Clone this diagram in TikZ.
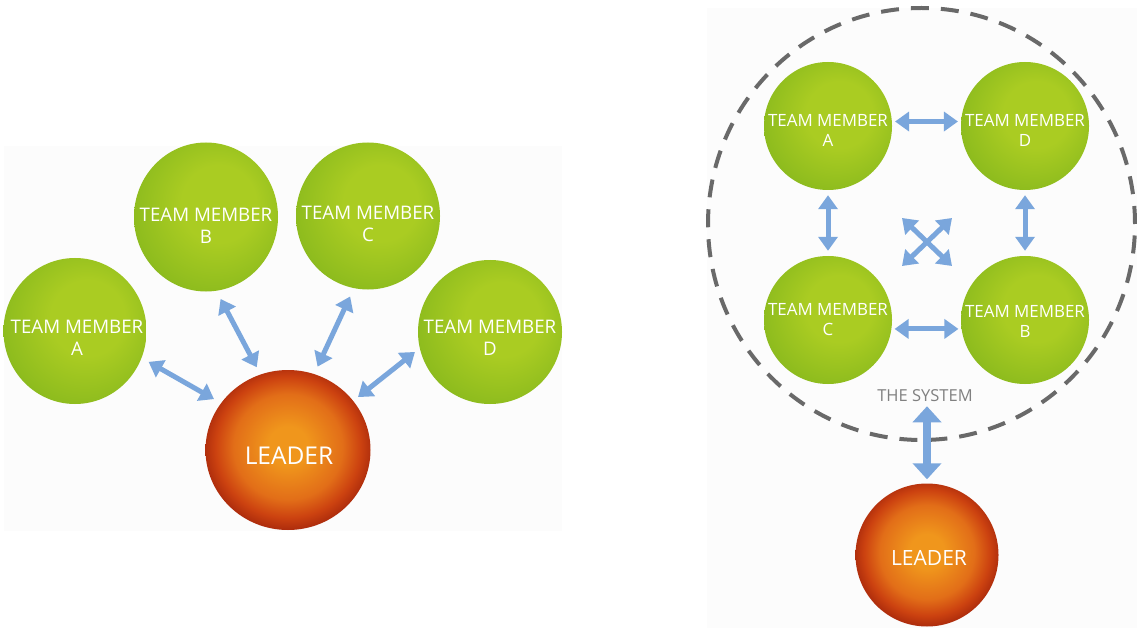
\documentclass[tikz,border=0pt]{standalone}
\usepackage{fontspec}
\setmainfont{Open Sans}
\usetikzlibrary{shapes.geometric,arrows.meta,calc}
\definecolor{gHi}{RGB}{170,204,34}
\definecolor{gMid}{RGB}{142,188,30}
\definecolor{gDark}{RGB}{90,150,26}
\definecolor{oC}{RGB}{240,150,28}
\definecolor{oM}{RGB}{226,110,24}
\definecolor{oE}{RGB}{204,66,16}
\definecolor{oR}{RGB}{170,42,12}
\definecolor{arrowblue}{RGB}{122,166,220}
\definecolor{dashgray}{RGB}{105,105,105}
\definecolor{systext}{RGB}{128,128,128}
\definecolor{panel}{RGB}{252,252,252}
\pgfdeclareradialshading{greenball}{\pgfpoint{6bp}{6bp}}{color(0bp)=(gHi); color(13bp)=(gHi); color(28bp)=(gMid); color(40bp)=(gDark); color(50bp)=(gDark)}
\pgfdeclareradialshading{orangeball}{\pgfpoint{0bp}{1.5bp}}{color(0bp)=(oC); color(6bp)=(oC); color(16.5bp)=(oM); color(22bp)=(oE); color(26bp)=(oR); color(50bp)=(oR)}
\tikzset{
  member/.style={ellipse, inner sep=0pt, shading=greenball},
  leaderball/.style={ellipse, inner sep=0pt, shading=orangeball},
  bigtext/.style={text=white, align=center, font=\fontsize{18.7}{22}\selectfont},
  smalltext/.style={text=white, align=center, font=\fontsize{16.9}{20}\selectfont},
  arr/.style={draw=arrowblue, line width=5pt, {Triangle[width=19pt,length=14pt]}-{Triangle[width=19pt,length=14pt]}},
  bigarr/.style={draw=arrowblue, line width=8.5pt, {Triangle[width=28pt,length=16pt]}-{Triangle[width=28pt,length=16pt]}},
}
\begin{document}
\begin{tikzpicture}[x=1pt,y=-1pt]
\useasboundingbox (0,0) rectangle (1137,628);
% panels
\fill[panel] (4,146) rectangle (562,531);
\fill[panel] (707,8) rectangle (1137,628);

% ---------- left diagram ----------
\node[member, minimum width=143pt, minimum height=146pt] (lA) at (75,331) {};
\node[member, minimum width=144pt, minimum height=149pt] (lB) at (206,217) {};
\node[member, minimum width=144pt, minimum height=147pt] (lC) at (368,216) {};
\node[member, minimum width=144pt, minimum height=144pt] (lD) at (490,332) {};
\node[leaderball, minimum width=165pt, minimum height=160pt] (lL) at (288,450) {};
\node[bigtext] (tA) at ($(lA)+(2,7)$) {TEAM MEMBER\\A};
\node[bigtext] (tB) at ($(lB)+(0,9)$) {TEAM MEMBER\\B};
\node[bigtext] (tC) at ($(lC)+(0,8)$) {TEAM MEMBER\\C};
\node[bigtext] (tD) at ($(lD)+(0,6)$) {TEAM MEMBER\\D};
\node[text=white, font=\fontsize{24.5}{28}\selectfont] (tL) at ($(lL)+(1,6)$) {LEADER};

\draw[arr, shorten <=8pt, shorten >=8pt] (lA.-22) -- (lL.145);
\draw[arr, shorten <=9pt, shorten >=8pt] (lB.-82) -- (lL.110);
\draw[arr, shorten <=9pt, shorten >=8pt] (lC.-101) -- (lL.71);
\draw[arr, shorten <=6pt, shorten >=6pt] (lD.-167) -- (lL.37);

% ---------- right diagram ----------
\node[ellipse, draw=dashgray, line width=4pt, dash pattern=on 18pt off 12pt, minimum width=427pt, minimum height=432pt, inner sep=0pt] (sys) at (921.5,224) {};
\node[member, minimum width=128pt, minimum height=128pt] (rA) at (828,126) {};
\node[member, minimum width=128pt, minimum height=128pt] (rD) at (1025,126) {};
\node[member, minimum width=128pt, minimum height=128pt] (rC) at (828,320) {};
\node[member, minimum width=128pt, minimum height=128pt] (rB) at (1025,320) {};
\node[leaderball, minimum width=143pt, minimum height=143pt] (rL) at (927,555) {};
\node[smalltext] (trA) at ($(rA)+(0,4)$) {TEAM MEMBER\\A};
\node[smalltext] (trD) at ($(rD)+(0,4)$) {TEAM MEMBER\\D};
\node[smalltext] (trC) at ($(rC)+(0,0)$) {TEAM MEMBER\\C};
\node[smalltext] (trB) at ($(rB)+(0,1)$) {TEAM MEMBER\\B};
\node[text=white, font=\fontsize{21}{25}\selectfont] (trL) at ($(rL)+(2,3)$) {LEADER};
\node[text=systext, font=\fontsize{16.5}{19}\selectfont, inner sep=1pt] (systxt) at (925,396) {THE SYSTEM};

\draw[arr, shorten <=3pt, shorten >=3pt] (rA.4) -- (rD.176);
\draw[arr, shorten <=3pt, shorten >=3pt] (rC.-8) -- (rB.-172);
\draw[arr, shorten <=5pt, shorten >=5pt] (rA.south) -- (rC.north);
\draw[arr, shorten <=5pt, shorten >=5pt] (rD.south) -- (rB.north);
\coordinate (X) at (927,242);
\draw[arr] ($(X)+(-25,-24)$) -- ($(X)+(25,24)$);
\draw[arr] ($(X)+(25,-24)$) -- ($(X)+(-25,24)$);
\draw[bigarr, shorten <=3pt, shorten >=4pt] (systxt.south -| rL.north) -- (rL.north);
\end{tikzpicture}
\end{document}
